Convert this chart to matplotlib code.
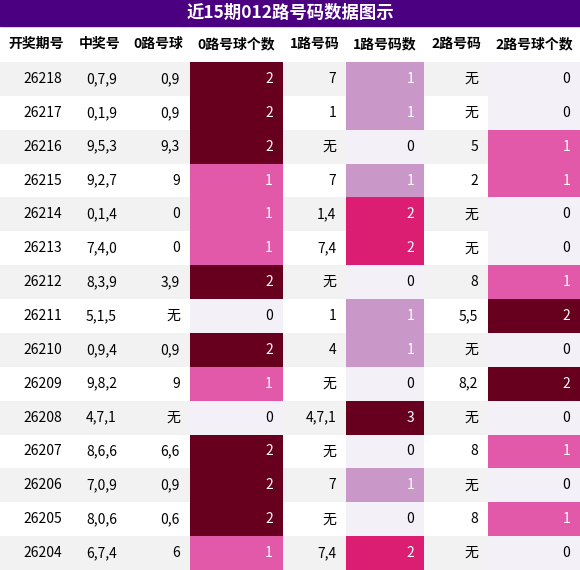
import matplotlib
matplotlib.use("Agg")
import matplotlib.pyplot as plt
from matplotlib.patches import Rectangle
from matplotlib import cm, colors

plt.rcParams['font.family'] = ['Noto Sans CJK SC', 'DejaVu Sans']

title = "近15期012路号码数据图示"
headers = ["开奖期号", "中奖号", "0路号球", "0路号球个数", "1路号码", "1路号码数", "2路号码", "2路号球个数"]
periods = ["26218","26217","26216","26215","26214","26213","26212","26211","26210","26209","26208","26207","26206","26205","26204"]
draws = ["0,7,9","0,1,9","9,5,3","9,2,7","0,1,4","7,4,0","8,3,9","5,1,5","0,9,4","9,8,2","4,7,1","8,6,6","7,0,9","8,0,6","6,7,4"]
r0 = ["0,9","0,9","9,3","9","0","0","3,9","无","0,9","9","无","6,6","0,9","0,6","6"]
c0 = [2,2,2,1,1,1,2,0,2,1,0,2,2,2,1]
r1 = ["7","1","无","7","1,4","7,4","无","1","4","无","4,7,1","无","7","无","7,4"]
c1 = [1,1,0,1,2,2,0,1,1,0,3,0,1,0,2]
r2 = ["无","无","5","2","无","无","8","5,5","无","8,2","无","8","无","8","无"]
c2 = [0,0,1,1,0,0,1,2,0,2,0,1,0,1,0]

W, H = 580, 570
edges = [0, 72, 127, 190, 283, 346, 424, 488, 580]
title_h, head_bot = 26, 62
n = len(periods)
row_h = (H - head_bot) / n

fig = plt.figure(figsize=(W/100, H/100), dpi=100)
ax = fig.add_axes([0, 0, 1, 1])
ax.set_xlim(0, W); ax.set_ylim(H, 0); ax.axis('off')

ax.add_patch(Rectangle((0, 0), W, title_h, color='#4b0082'))
ax.text(W/2, title_h/2, title, color='white', fontsize=12.5, fontweight='bold', ha='center', va='center')
for j, h in enumerate(headers):
    ax.text((edges[j]+edges[j+1])/2, (title_h+head_bot)/2, h, fontsize=10, fontweight='bold', ha='center', va='center')

cmap = cm.get_cmap('PuRd')
cols = [periods, draws, r0, c0, r1, c1, r2, c2]
for i in range(n):
    y = head_bot + i*row_h
    bg = '#f2f2f2' if i % 2 == 0 else 'white'
    ax.add_patch(Rectangle((0, y), W, row_h, color=bg, lw=0))
    for j, col in enumerate(cols):
        v = col[i]
        tc = 'black'
        if j in (3, 5, 7):
            vmax = max(col)
            fc = cmap(0.05 + 0.95*v/vmax) if v > 0 else '#f4f0f7'
            ax.add_patch(Rectangle((edges[j], y), edges[j+1]-edges[j], row_h, color=fc, lw=0))
            if v > 0:
                tc = 'white'
        ax.text(edges[j+1]-10, y+row_h/2, str(v), fontsize=10, ha='right', va='center', color=tc)

fig.savefig("out.png", dpi=100)
